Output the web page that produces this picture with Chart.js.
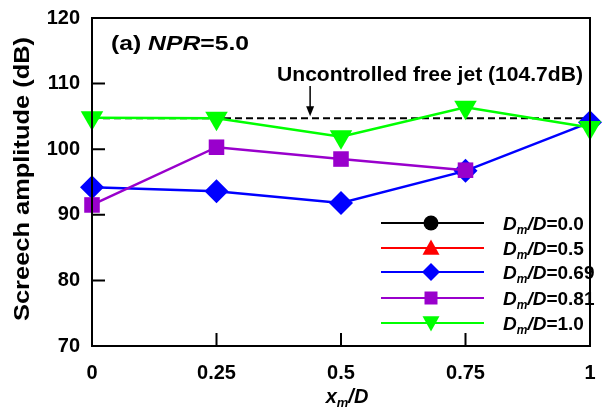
<!DOCTYPE html>
<html>
<head>
<meta charset="utf-8">
<script src="https://cdn.jsdelivr.net/npm/chart.js@4.4.1/dist/chart.umd.min.js"></script>
<style>
  html, body { margin: 0; padding: 0; background: #fff; }
  #wrap { width: 603px; height: 411px; }
</style>
</head>
<body>
<div id="wrap"><canvas id="screechChart" width="603" height="411"></canvas></div>
<script>
// x_m/D positions
const xPositions = [0, 0.25, 0.5, 0.75, 1];
const xTicks = [0, 0.25, 0.5, 0.75, 1];
const yTicks = [70, 80, 90, 100, 110, 120];

// screech amplitude (dB) for each D_m/D
const dm00 = [];
const dm05 = [];
const dm069 = [94.2, 93.6, 91.8, 96.7, 104.1];
const dm081 = [91.5, 100.3, 98.5, 96.8];
const dm10 = [104.8, 104.7, 101.9, 106.4, 103.3];
const freeJet = 104.7;
const arrowX = 0.438;

const legendItems = [
  { val: "0.0", color: "#000000", marker: "circle" },
  { val: "0.5", color: "#ff0000", marker: "triUp" },
  { val: "0.69", color: "#0000ff", marker: "diamond" },
  { val: "0.81", color: "#9900cc", marker: "square" },
  { val: "1.0", color: "#00ff00", marker: "triDown" }
];

function pts(arr) {
  return arr.map((v, i) => ({ x: xPositions[i], y: v }));
}

const FONT = "'Liberation Sans', Arial, sans-serif";

function drawMarker(ctx, type, x, y, r, color) {
  ctx.save();
  ctx.fillStyle = color;
  ctx.beginPath();
  if (type === "circle") {
    ctx.arc(x, y, r, 0, Math.PI * 2);
  } else if (type === "square") {
    ctx.rect(x - r, y - r, 2 * r, 2 * r);
  } else if (type === "diamond") {
    ctx.moveTo(x, y - r); ctx.lineTo(x + r, y); ctx.lineTo(x, y + r); ctx.lineTo(x - r, y);
  } else if (type === "triUp") {
    ctx.moveTo(x, y - r); ctx.lineTo(x + r, y + r * 0.8); ctx.lineTo(x - r, y + r * 0.8);
  } else if (type === "triDown") {
    ctx.moveTo(x, y + r); ctx.lineTo(x + r, y - r * 0.8); ctx.lineTo(x - r, y - r * 0.8);
  }
  ctx.closePath();
  ctx.fill();
  ctx.restore();
}

// draws a run of text pieces [text, font, dy]
function drawRuns(ctx, runs, x, y) {
  ctx.textBaseline = "alphabetic";
  ctx.textAlign = "left";
  for (const r of runs) {
    ctx.font = r[1];
    ctx.fillText(r[0], x, y + (r[2] || 0));
    x += ctx.measureText(r[0]).width;
  }
  return x;
}
function runsWidth(ctx, runs) {
  let w = 0;
  for (const r of runs) { ctx.font = r[1]; w += ctx.measureText(r[0]).width; }
  return w;
}
// runs stretched horizontally to a given width, starting at x
function drawStretched(ctx, runs, x, y, width) {
  const w = runsWidth(ctx, runs);
  ctx.save();
  ctx.translate(x, y);
  ctx.scale(width / w, 1);
  drawRuns(ctx, runs, 0, 0);
  ctx.restore();
}

const decorPlugin = {
  id: "decor",
  afterDraw(chart) {
    const ctx = chart.ctx;
    const xs = chart.scales.x, ys = chart.scales.y;
    const a = chart.chartArea;
    ctx.save();
    ctx.strokeStyle = "#000";
    ctx.fillStyle = "#000";

    // frame
    ctx.lineWidth = 2;
    ctx.strokeRect(a.left, a.top, a.right - a.left, a.bottom - a.top);

    // inward ticks
    ctx.beginPath();
    yTicks.forEach(v => {
      const py = ys.getPixelForValue(v);
      ctx.moveTo(a.left, py); ctx.lineTo(a.left + 13, py);
    });
    xTicks.forEach(v => {
      const px = xs.getPixelForValue(v);
      ctx.moveTo(px, a.bottom); ctx.lineTo(px, a.bottom - 13);
    });
    ctx.stroke();

    // title
    drawStretched(ctx, [
      ["(a) ", "bold 21px " + FONT],
      ["NPR", "italic bold 21px " + FONT],
      ["=5.0", "bold 21px " + FONT]
    ], 111, 50, 138);

    // uncontrolled annotation
    const ax = xs.getPixelForValue(arrowX);
    drawStretched(ctx, [["Uncontrolled free jet (104.7dB)", "bold 21px " + FONT]], 277, 81, 306);
    ctx.lineWidth = 1.5;
    ctx.beginPath();
    ctx.moveTo(ax, 86); ctx.lineTo(ax, ys.getPixelForValue(freeJet) - 6);
    ctx.stroke();
    const tipY = ys.getPixelForValue(freeJet) - 2;
    ctx.beginPath();
    ctx.moveTo(ax, tipY); ctx.lineTo(ax - 4, tipY - 10); ctx.lineTo(ax + 4, tipY - 10);
    ctx.closePath(); ctx.fill();

    // legend
    const legX0 = 381, legX1 = 484, legMx = 431, legTx = 503;
    const rowY = [223, 248, 272, 298, 323];
    legendItems.forEach((it, i) => {
      const y = rowY[i];
      ctx.strokeStyle = it.color;
      ctx.lineWidth = 2.2;
      ctx.beginPath(); ctx.moveTo(legX0, y); ctx.lineTo(legX1, y); ctx.stroke();
      const r = it.marker === "circle" ? 7.5 : it.marker === "square" ? 6.5 : it.marker === "diamond" ? 9 : 8.5;
      drawMarker(ctx, it.marker, legMx, y, r, it.color);
      ctx.fillStyle = "#000";
      drawRuns(ctx, [
        ["D", "italic bold 19px " + FONT],
        ["m", "italic bold 12px " + FONT, 4],
        ["/D", "italic bold 19px " + FONT],
        ["=" + it.val, "bold 19px " + FONT]
      ], legTx, y + 7);
    });

    // x axis title
    ctx.fillStyle = "#000";
    const xRuns = [
      ["x", "italic bold 20px " + FONT],
      ["m", "italic bold 13px " + FONT, 4],
      ["/D", "italic bold 20px " + FONT]
    ];
    const w = runsWidth(ctx, xRuns);
    drawRuns(ctx, xRuns, 347 - w / 2, 403);

    // y axis title
    ctx.save();
    ctx.translate(29, 179);
    ctx.rotate(-Math.PI / 2);
    const yRuns = [["Screech amplitude (dB)", "bold 22px " + FONT]];
    drawStretched(ctx, yRuns, -142, 0, 284);
    ctx.restore();

    ctx.restore();
  }
};

function series(data, color, style, radius, rotation) {
  return {
    data: pts(data),
    borderColor: color,
    backgroundColor: color,
    borderWidth: 2.5,
    pointStyle: style,
    pointRadius: radius,
    pointHoverRadius: radius,
    pointRotation: rotation || 0,
    pointBorderWidth: 0,
    tension: 0,
    clip: false
  };
}

function fixPadding(s) {
  s.paddingLeft = 0; s.paddingRight = 0; s.paddingTop = 0; s.paddingBottom = 0;
}

new Chart(document.getElementById("screechChart"), {
  type: "line",
  data: {
    datasets: [
      {
        data: [{ x: 0, y: freeJet }, { x: 1, y: freeJet }],
        borderColor: "#000",
        borderWidth: 2,
        borderDash: [7, 4],
        pointRadius: 0,
        order: 10
      },
      Object.assign(series(dm00, "#000000", "circle", 9), { order: 5 }),
      Object.assign(series(dm05, "#ff0000", "triangle", 11), { order: 4 }),
      Object.assign(series(dm069, "#0000ff", "rectRot", 12), { order: 3 }),
      Object.assign(series(dm081, "#9900cc", "rect", 11), { order: 2 }),
      Object.assign(series(dm10, "#00ff00", "triangle", 13, 180), { order: 1 })
    ]
  },
  options: {
    responsive: false,
    animation: false,
    layout: { padding: { left: 0, right: 4, top: 18, bottom: 0 } },
    plugins: { legend: { display: false }, tooltip: { enabled: false } },
    scales: {
      x: {
        type: "linear",
        min: 0,
        max: 1,
        afterBuildTicks: s => { s.ticks = xTicks.map(v => ({ value: v })); },
        afterFit: s => { s.height = 65; fixPadding(s); },
        grid: { display: false, drawTicks: false },
        border: { display: false },
        ticks: {
          padding: 15,
          color: "#000",
          font: { family: FONT, size: 20, weight: "bold" },
          callback: v => String(v)
        }
      },
      y: {
        min: 70,
        max: 120,
        afterBuildTicks: s => { s.ticks = yTicks.map(v => ({ value: v })); },
        afterFit: s => { s.width = 92; fixPadding(s); },
        grid: { display: false, drawTicks: false },
        border: { display: false },
        ticks: {
          padding: 12,
          color: "#000",
          font: { family: FONT, size: 20, weight: "bold" }
        }
      }
    }
  },
  plugins: [decorPlugin]
});
</script>
</body>
</html>
